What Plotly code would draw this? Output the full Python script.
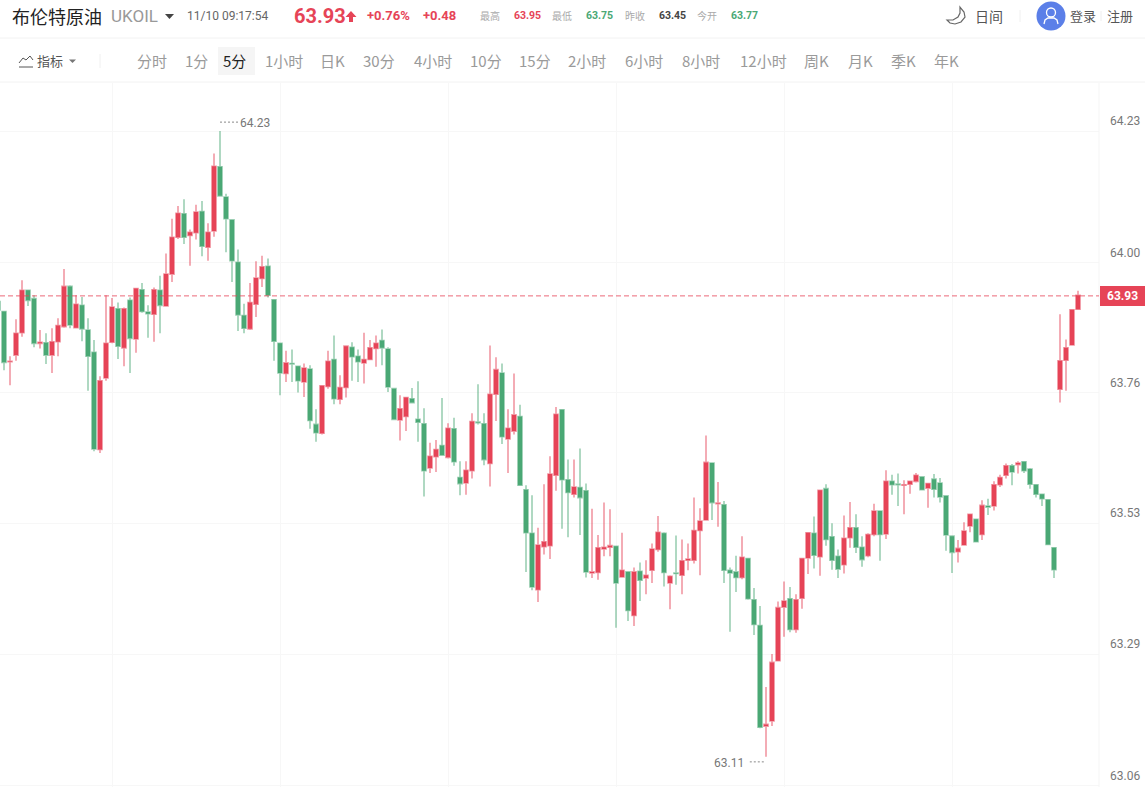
import plotly.graph_objects as go

OPEN = [63.925,63.907,63.817,63.829,63.869,63.945,63.930,63.850,63.851,63.829,63.853,63.880,63.952,63.878,63.918,63.874,63.834,63.660,63.788,63.852,
63.912,63.842,63.927,63.858,63.946,63.906,63.902,63.945,63.917,63.974,64.040,64.082,64.043,64.048,64.086,64.022,64.051,64.166,64.112,64.071,
63.995,63.900,63.876,63.920,63.966,63.988,63.928,63.850,63.796,63.814,63.809,63.781,63.804,63.705,63.689,63.773,63.821,63.750,63.771,63.843,
63.827,63.815,63.821,63.841,63.855,63.840,63.769,63.713,63.719,63.751,63.714,63.706,63.627,63.647,63.667,63.646,63.697,63.610,63.600,63.622,
63.709,63.706,63.635,63.759,63.797,63.679,63.693,63.719,63.588,63.510,63.409,63.486,63.488,63.614,63.731,63.606,63.580,63.592,63.586,63.439,
63.440,63.482,63.485,63.487,63.432,63.441,63.363,63.442,63.430,63.444,63.481,63.510,63.421,63.439,63.435,63.462,63.462,63.515,63.534,63.636,
63.563,63.561,63.444,63.441,63.431,63.465,63.391,63.345,63.165,63.174,63.282,63.378,63.393,63.338,63.394,63.466,63.510,63.468,63.590,63.504,
63.469,63.454,63.502,63.520,63.485,63.470,63.508,63.550,63.509,63.603,63.598,63.596,63.598,63.603,63.611,63.591,63.607,63.600,63.577,63.505,
63.477,63.489,63.523,63.535,63.508,63.559,63.559,63.597,63.614,63.631,63.633,63.638,63.625,63.597,63.580,63.570,63.484,63.768,63.820,63.847,63.911]
HIGH = [63.936,63.907,63.827,63.893,63.963,63.946,63.936,63.874,63.868,63.877,63.895,63.983,63.954,63.936,63.933,63.895,63.856,63.791,63.936,63.931,
63.923,63.914,63.932,63.948,63.958,63.918,63.950,63.971,64.011,64.073,64.096,64.108,64.054,64.098,64.105,64.065,64.190,64.230,64.118,64.072,
64.018,63.921,63.958,63.997,64.007,64.002,63.929,63.851,63.837,63.839,63.810,63.814,63.811,63.732,63.775,63.837,63.864,63.793,63.846,63.852,
63.839,63.869,63.856,63.864,63.875,63.843,63.770,63.757,63.754,63.770,63.782,63.734,63.672,63.677,63.752,63.707,63.717,63.639,63.639,63.725,
63.777,63.725,63.846,63.825,63.814,63.732,63.796,63.740,63.596,63.578,63.520,63.598,63.648,63.736,63.732,63.642,63.642,63.662,63.599,63.554,
63.507,63.565,63.553,63.488,63.511,63.442,63.449,63.458,63.462,63.492,63.541,63.512,63.435,63.506,63.499,63.492,63.574,63.555,63.685,63.637,
63.602,63.568,63.449,63.470,63.505,63.466,63.412,63.380,63.235,63.294,63.388,63.424,63.414,63.401,63.466,63.511,63.540,63.588,63.598,63.528,
63.481,63.542,63.566,63.544,63.505,63.510,63.563,63.551,63.623,63.615,63.617,63.605,63.604,63.618,63.612,63.600,63.616,63.609,63.578,63.505,
63.498,63.530,63.545,63.536,63.569,63.572,63.603,63.615,63.635,63.634,63.639,63.639,63.627,63.598,63.580,63.571,63.485,63.902,63.857,63.911,63.944]
LOW = [63.906,63.802,63.775,63.819,63.862,63.917,63.843,63.841,63.813,63.797,63.827,63.878,63.877,63.877,63.854,63.765,63.657,63.654,63.783,63.850,
63.822,63.809,63.797,63.833,63.905,63.860,63.853,63.868,63.916,63.960,64.037,64.028,63.989,64.036,64.006,63.998,64.041,64.113,64.013,63.960,
63.872,63.868,63.874,63.897,63.951,63.932,63.819,63.757,63.781,63.781,63.762,63.754,63.697,63.674,63.687,63.769,63.741,63.741,63.753,63.783,
63.781,63.778,63.820,63.808,63.811,63.763,63.713,63.676,63.693,63.743,63.674,63.576,63.618,63.620,63.649,63.644,63.631,63.578,63.579,63.608,
63.705,63.632,63.594,63.711,63.670,63.618,63.687,63.595,63.441,63.408,63.387,63.472,63.464,63.586,63.518,63.503,63.574,63.507,63.431,63.430,
63.427,63.469,63.469,63.341,63.431,63.353,63.344,63.389,63.401,63.421,63.477,63.415,63.374,63.418,63.401,63.444,63.456,63.435,63.533,63.534,
63.522,63.421,63.334,63.405,63.428,63.391,63.328,63.161,63.110,63.165,63.281,63.325,63.333,63.332,63.375,63.437,63.447,63.434,63.488,63.445,
63.430,63.438,63.484,63.475,63.450,63.467,63.505,63.461,63.500,63.579,63.559,63.544,63.581,63.601,63.587,63.556,63.574,63.565,63.479,63.439,
63.458,63.488,63.512,63.494,63.498,63.543,63.551,63.593,63.608,63.596,63.617,63.618,63.590,63.574,63.559,63.489,63.430,63.744,63.765,63.846,63.910]
CLOSE = [63.910,63.816,63.818,63.868,63.945,63.927,63.850,63.852,63.829,63.853,63.882,63.952,63.883,63.920,63.876,63.827,63.661,63.783,63.850,63.915,
63.845,63.912,63.859,63.948,63.907,63.903,63.946,63.918,63.974,64.040,64.083,64.040,64.049,64.085,64.024,64.049,64.167,64.114,64.073,63.998,
63.901,63.877,63.923,63.967,63.987,63.936,63.854,63.797,63.815,63.813,63.783,63.806,63.712,63.690,63.774,63.818,63.751,63.771,63.845,63.826,
63.817,63.821,63.842,63.850,63.842,63.772,63.714,63.733,63.753,63.744,63.709,63.622,63.648,63.660,63.650,63.698,63.638,63.599,63.623,63.710,
63.708,63.642,63.759,63.803,63.683,63.698,63.722,63.596,63.511,63.414,63.489,63.495,63.616,63.723,63.606,63.583,63.593,63.574,63.441,63.441,
63.484,63.485,63.488,63.421,63.444,63.372,63.441,63.426,63.435,63.482,63.512,63.440,63.433,63.438,63.461,63.464,63.515,63.532,63.637,63.565,
63.564,63.444,63.439,63.431,63.467,63.393,63.347,63.163,63.168,63.279,63.377,63.389,63.338,63.391,63.465,63.511,63.471,63.587,63.499,63.462,
63.446,63.501,63.520,63.485,63.463,63.508,63.550,63.508,63.603,63.597,63.597,63.597,63.603,63.614,63.588,63.599,63.589,63.575,63.507,63.476,
63.483,63.514,63.544,63.495,63.560,63.557,63.597,63.610,63.631,63.620,63.636,63.622,63.598,63.580,63.572,63.490,63.445,63.819,63.842,63.910,63.936]
TIME_INDEX = list(range(len(OPEN)))

GRID_X = [19, 47, 75, 103, 131, 159]
Y_TICK_VALS = [64.23, 63.995, 63.762, 63.528, 63.294, 63.059]
Y_TICK_TEXT = ["64.23", "64.00", "63.76", "63.53", "63.29", "63.06"]
LAST_PRICE = 63.935
LAST_LABEL = "63.93"
HIGH_MARK = 64.23
LOW_MARK = 63.11
TABS = ["分时", "1分", "5分", "1小时", "日K", "30分", "4小时", "10分", "15分", "2小时", "6小时", "8小时", "12小时", "周K", "月K", "季K", "年K"]
TAB_LEFT = [137, 185, 223, 265, 320, 363, 414, 470, 519, 568, 625, 682, 740, 804, 848, 891, 934]

RED = "#e64457"
GREEN = "#4aa875"
CJK = "Noto Sans CJK SC"
NUM = "Roboto"

W, H = 1145, 787
PL, PR, PT, PB = 0, 46, 83, 0
PW = W - PL - PR
PH = H - PT - PB

def px(x):
    return (x - PL) / PW

def py(y):
    return 1 - (y - PT) / PH

annotations = []
shapes = []

def text(t, x, y, size, color, font=CJK, anchor="left", bold=False):
    s = f"<b>{t}</b>" if bold else t
    annotations.append(dict(text=s, x=px(x), y=py(y), xref="paper", yref="paper",
                            xanchor=anchor, yanchor="middle", showarrow=False,
                            borderpad=0, borderwidth=0,
                            font=dict(size=size, color=color, family=font)))

def rect(x0, y0, x1, y1, fill, layer="below"):
    shapes.append(dict(type="rect", xref="paper", yref="paper", x0=px(x0), x1=px(x1),
                       y0=py(y0), y1=py(y1), fillcolor=fill, line=dict(width=0), layer=layer))

def line(x0, y0, x1, y1, color, width=1, dash="solid"):
    shapes.append(dict(type="line", xref="paper", yref="paper", x0=px(x0), x1=px(x1),
                       y0=py(y0), y1=py(y1), line=dict(color=color, width=width, dash=dash), layer="above"))

def path(points, fill=None, color=None, width=1, close=True):
    d = "M" + " L".join(f"{px(a):.5f},{py(b):.5f}" for a, b in points) + (" Z" if close else "")
    shapes.append(dict(type="path", xref="paper", yref="paper", path=d,
                       fillcolor=fill if fill else "rgba(0,0,0,0)",
                       line=dict(color=color if color else "rgba(0,0,0,0)", width=width), layer="above"))

def circle(cx, cy, r, fill=None, color=None, width=1):
    shapes.append(dict(type="circle", xref="paper", yref="paper", x0=px(cx - r), x1=px(cx + r),
                       y0=py(cy + r), y1=py(cy - r),
                       fillcolor=fill if fill else "rgba(0,0,0,0)",
                       line=dict(color=color if color else "rgba(0,0,0,0)", width=width), layer="above"))

# header text
text("布伦特原油", 12, 16, 18, "#222222")
text("UKOIL", 111, 16, 17, "#999999", font=NUM)
path([(165, 14), (174, 14), (169.5, 19)], fill="#444444")
text("11/10 09:17:54", 187, 16, 12, "#666666", font=NUM)
text("63.93", 294, 16, 20, RED, font=NUM, bold=True)
path([(351, 11), (356.5, 17), (353, 17), (353, 22), (349, 22), (349, 17), (345.5, 17)], fill=RED)
text("+0.76%", 367, 16, 13, RED, font=NUM, bold=True)
text("+0.48", 423, 16, 13, RED, font=NUM, bold=True)
text("最高", 480, 16, 10, "#aaaaaa")
text("63.95", 514, 16, 10.5, RED, font=NUM, bold=True)
text("最低", 552, 16, 10, "#aaaaaa")
text("63.75", 586, 16, 10.5, GREEN, font=NUM, bold=True)
text("昨收", 625, 16, 10, "#aaaaaa")
text("63.45", 659, 16, 10.5, "#444444", font=NUM, bold=True)
text("今开", 697, 16, 10, "#aaaaaa")
text("63.77", 731, 16, 10.5, GREEN, font=NUM, bold=True)
path([(960, 7), (964, 12), (965, 17), (961, 22), (955, 24), (950, 23), (947, 20), (953, 20),
      (958, 17), (960, 13)], color="#666666", width=1.2)
text("日间", 975, 16, 14, "#555555")
line(1020, 10, 1020, 22, "#f0f0f0")
circle(1051, 16, 14.5, fill="#5b7fe8")
circle(1051, 12.5, 4.5, color="#ffffff", width=1.3)
path([(1044, 24), (1045, 20), (1048, 18), (1054, 18), (1057, 20), (1058, 24)], color="#ffffff", width=1.3, close=False)
text("登录", 1070, 16, 13, "#555555")
line(1101, 11, 1101, 21, "#eeeeee")
text("注册", 1107, 16, 13, "#555555")
line(0, 38, W, 38, "#f2f2f2")
line(0, 82, W, 82, "#f2f2f2")

# toolbar
path([(19, 63), (23, 58), (26, 60), (30, 56), (33, 60)], color="#555555", width=1, close=False)
line(19, 67, 33, 67, "#555555")
text("指标", 37, 60.5, 13, "#555555")
path([(69, 59.5), (76, 59.5), (72.5, 63)], fill="#777777")
line(100, 54, 100, 68, "#f0f0f0")
rect(218, 47, 255, 75, "#f5f5f5", layer="above")
for t, x in zip(TABS, TAB_LEFT):
    text(t, x, 60.5, 15, "#222222" if t == "5分" else "#9a9a9a")

# right border and price tag
line(1099, 83, 1099, 787, "#f5f5f5")
rect(1100, 286, 1145, 306, RED, layer="above")
text(LAST_LABEL, 1122.5, 296, 12, "#ffffff", font=NUM, anchor="center", bold=True)

# last price line
shapes.append(dict(type="line", xref="paper", yref="y", x0=0, x1=1, y0=LAST_PRICE, y1=LAST_PRICE,
                   line=dict(color="rgba(230,68,87,0.8)", width=1, dash="5px,3px"), layer="above"))

# high / low marks
high_i = HIGH.index(max(HIGH))
low_i = LOW.index(min(LOW))
annotations.append(dict(text=f"{HIGH_MARK:.2f}", x=high_i, y=HIGH_MARK, xref="x", yref="y", xanchor="left",
                        yanchor="middle", xshift=20, yshift=8.5, showarrow=False, borderpad=0, borderwidth=0,
                        font=dict(size=12, color="#777777", family=NUM)))
shapes.append(dict(type="line", xref="x", yref="y", x0=high_i, x1=high_i + 3, y0=HIGH_MARK + 0.016, y1=HIGH_MARK + 0.016,
                   line=dict(color="#888888", width=1, dash="2px,2px"), layer="above"))
annotations.append(dict(text=f"{LOW_MARK:.2f}", x=low_i, y=LOW_MARK, xref="x", yref="y", xanchor="right",
                        yanchor="middle", xshift=-22, yshift=-6, showarrow=False, borderpad=0, borderwidth=0,
                        font=dict(size=12, color="#777777", family=NUM)))
shapes.append(dict(type="line", xref="x", yref="y", x0=low_i - 2.7, x1=low_i - 0.2, y0=LOW_MARK - 0.009, y1=LOW_MARK - 0.009,
                   line=dict(color="#888888", width=1, dash="2px,2px"), layer="above"))

fig = go.Figure(go.Candlestick(
    x=TIME_INDEX, open=OPEN, high=HIGH, low=LOW, close=CLOSE,
    increasing=dict(line=dict(color="rgba(230,68,87,0.55)", width=1.6), fillcolor=RED),
    decreasing=dict(line=dict(color="rgba(74,168,117,0.55)", width=1.6), fillcolor=GREEN),
    whiskerwidth=0, hoverinfo="skip", showlegend=False,
))

fig.update_layout(
    width=W, height=H, margin=dict(l=PL, r=PR, t=PT, b=PB),
    paper_bgcolor="#ffffff", plot_bgcolor="#ffffff", showlegend=False,
    boxgap=0.02,
    annotations=annotations, shapes=shapes,
    xaxis=dict(range=[1 / 3, 183.5], rangeslider=dict(visible=False), showticklabels=False,
               tickmode="array", tickvals=GRID_X, showgrid=True, gridcolor="#f7f7f7",
               gridwidth=1, zeroline=False, showline=False, ticks=""),
    yaxis=dict(range=[63.056, 64.316], side="right", tickmode="array",
               tickvals=Y_TICK_VALS, ticktext=Y_TICK_TEXT, showgrid=True, gridcolor="#f7f7f7",
               gridwidth=1, zeroline=False, showline=False, ticks="", ticklabelstandoff=10,
               ticklabelshift=-10, tickfont=dict(size=12, color="#777777", family=NUM)),
)

fig.write_html("out.html", config=dict(displayModeBar=False),
               post_script="document.body.style.margin='0';document.body.style.overflow='hidden';")
